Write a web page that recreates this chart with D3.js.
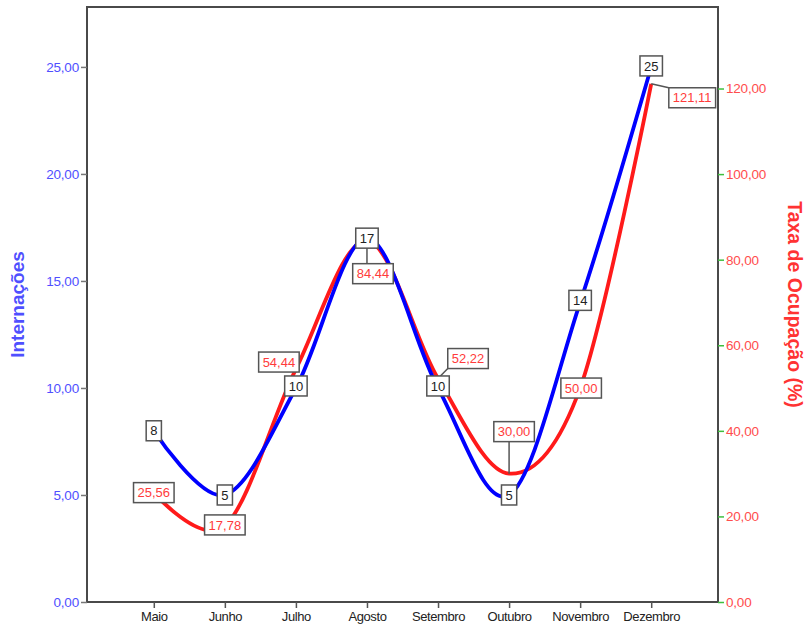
<!DOCTYPE html>
<html><head><meta charset="utf-8">
<script src="https://cdn.jsdelivr.net/npm/d3@7"></script>
<style>body{margin:0;background:#fff}svg{display:block}</style>
</head><body>
<script>
const months = ["Maio","Junho","Julho","Agosto","Setembro","Outubro","Novembro","Dezembro"];
const internacoes = [8,5,10,17,10,5,14,25];
const taxa = [25.56,17.78,54.44,84.44,52.22,30.00,50.00,121.11];
const leftTicks = [0,5,10,15,20,25];
const rightTicks = [0,20,40,60,80,100,120];

const W=806,H=631;
const L=87,R=718,T=7,B=602;
const svg=d3.select("body").append("svg").attr("width",W).attr("height",H);

const x=d3.scalePoint().domain(months).range([L,R]).padding(0.94);
const yL=d3.scaleLinear().domain([0,27.8]).range([B,T]);
const yR=d3.scaleLinear().domain([0,139.05]).range([B,T]);
const fmt=v=>d3.format(".2f")(v).replace(".",",");
const FF="Liberation Sans, Arial, sans-serif";

// frame
svg.append("rect").attr("x",L).attr("y",T).attr("width",R-L).attr("height",B-T)
  .attr("fill","none").attr("stroke","#4a4a4a").attr("stroke-width",2);

// left axis
const gl=svg.append("g").attr("transform",`translate(${L},0)`)
  .call(d3.axisLeft(yL).tickValues(leftTicks).tickSize(6).tickPadding(2).tickFormat(fmt));
gl.select(".domain").remove();
gl.selectAll(".tick line").attr("stroke","#777").attr("stroke-width",1.5);
gl.selectAll(".tick text").attr("fill","#4f4fff").attr("font-family",FF).attr("font-size",13.5).attr("letter-spacing",-0.2);

// right axis
const gr=svg.append("g").attr("transform",`translate(${R},0)`)
  .call(d3.axisRight(yR).tickValues(rightTicks).tickSize(6).tickPadding(2).tickFormat(fmt));
gr.select(".domain").remove();
gr.selectAll(".tick line").attr("stroke","#3fbf3f").attr("stroke-width",1.5);
gr.selectAll(".tick text").attr("fill","#ff4d4d").attr("font-family",FF).attr("font-size",13.5).attr("letter-spacing",-0.2);

// bottom axis
const gb=svg.append("g").attr("transform",`translate(0,${B})`)
  .call(d3.axisBottom(x).tickSize(6).tickPadding(4));
gb.select(".domain").remove();
gb.selectAll(".tick line").attr("stroke","#555").attr("stroke-width",1.5);
gb.selectAll(".tick text").attr("fill","#222").attr("font-family",FF).attr("font-size",13).attr("letter-spacing",-0.4);

// axis titles
svg.append("text").attr("transform",`translate(24,${(T+B)/2}) rotate(-90)`)
  .attr("text-anchor","middle").attr("fill","#4f4fff").attr("font-family",FF)
  .attr("font-size",19).attr("font-weight","bold").text("Internações");
svg.append("text").attr("transform",`translate(788,${(T+B)/2}) rotate(90)`)
  .attr("text-anchor","middle").attr("fill","#ff3333").attr("font-family",FF)
  .attr("font-size",19.5).attr("font-weight","bold").text("Taxa de Ocupação (%)");

// lines
const curve=d3.curveCardinal.tension(0);
const lineR=d3.line().x((d,i)=>x(months[i])).y(d=>yR(d)).curve(curve);
const lineL=d3.line().x((d,i)=>x(months[i])).y(d=>yL(d)).curve(curve);
svg.append("path").attr("d",lineR(taxa)).attr("fill","none").attr("stroke","#ff1a1a").attr("stroke-width",3.8);
svg.append("path").attr("d",lineL(internacoes)).attr("fill","none").attr("stroke","#0000ff").attr("stroke-width",3.8);

// label offsets (layout only)
const redShift=[[0,0],[0,-1],[-17,-7],[6,33],[30,-20],[5,-42],[1,0],[41,14]];
const blueShift=[[0,0],[0,0],[0,-2],[0,0],[0,-2],[0,0],[0,-2],[0,-1]];

function labels(vals,scale,shift,color,format){
  const g=svg.append("g");
  vals.forEach((v,i)=>{
    const px=x(months[i]),py=scale(v);
    const cx=px+shift[i][0],cy=py+shift[i][1];
    const t=g.append("text").attr("x",cx).attr("y",cy).attr("dy","0.36em")
      .attr("text-anchor","middle").attr("font-family",FF)
      .attr("font-size",13).attr("fill",color).text(format(v));
    const bb=t.node().getBBox();
    const w=bb.width+8,h=20;
    if(Math.abs(shift[i][0])>3||Math.abs(shift[i][1])>10){
      const ex=Math.max(cx-w/2,Math.min(px,cx+w/2));
      const ey=Math.max(cy-h/2,Math.min(py,cy+h/2));
      g.insert("line","text:last-child").attr("x1",px).attr("y1",py).attr("x2",ex).attr("y2",ey)
        .attr("stroke","#555").attr("stroke-width",1.5);
    }
    g.insert("rect","text:last-child").attr("x",cx-w/2).attr("y",cy-h/2).attr("width",w).attr("height",h)
      .attr("fill","#fff").attr("stroke","#555").attr("stroke-width",1.5);
  });
}
labels(taxa,yR,redShift,"#ff3b3b",fmt);
labels(internacoes,yL,blueShift,"#222",v=>String(v));
</script>
</body></html>
